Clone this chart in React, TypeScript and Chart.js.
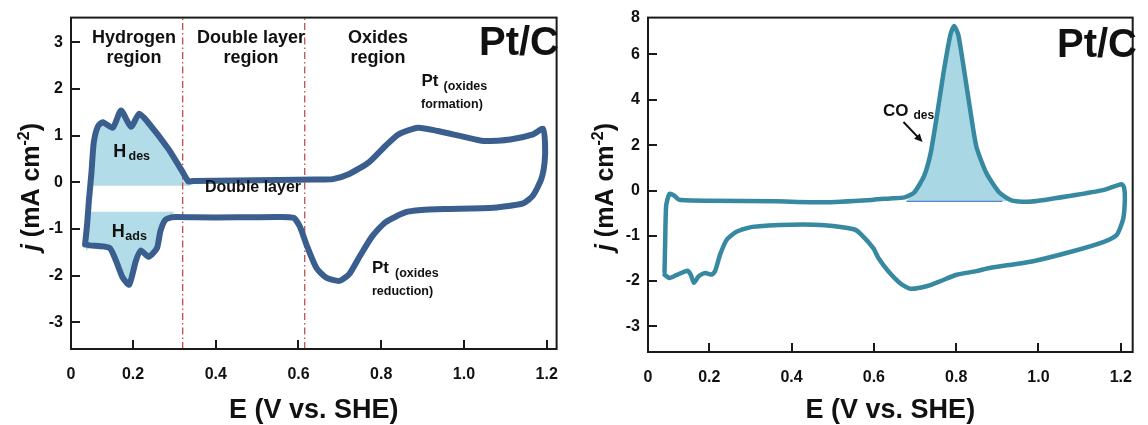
import React, { useEffect, useRef } from "react";
import { Chart, registerables, LinearScale } from "chart.js";

// ---------------- data ----------------
// Left panel: blank CV of Pt/C (E in V vs SHE, j in mA cm-2), path order around the loop
const cvE = [0.084, 0.089, 0.093, 0.0995, 0.105, 0.115, 0.127, 0.151, 0.171, 0.195, 0.2146, 0.234, 0.286, 0.318, 0.334, 0.345, 0.45, 0.55, 0.64, 0.683, 0.7226, 0.77, 0.81, 0.842, 0.889, 0.937, 0.993, 1.048, 1.112, 1.167, 1.191, 1.196, 1.195, 1.187, 1.167, 1.143, 1.072, 0.953, 0.897, 0.858, 0.81, 0.778, 0.746, 0.7226, 0.699, 0.667, 0.643, 0.619, 0.6035, 0.588, 0.55, 0.45, 0.35, 0.294, 0.278, 0.266, 0.258, 0.238, 0.2186, 0.2067, 0.1908, 0.1748, 0.159, 0.143, 0.0955, 0.084];
const cvJ = [-1.33, -0.9, -0.42, 0.216, 0.85, 1.2, 1.29, 1.17, 1.54, 1.19, 1.47, 1.31, 0.71, 0.25, 0.02, 0.03, 0.04, 0.05, 0.06, 0.07, 0.18, 0.43, 0.78, 1.03, 1.17, 1.1, 0.99, 0.885, 0.92, 1.03, 1.15, 0.85, 0.43, 0.07, -0.28, -0.45, -0.545, -0.573, -0.594, -0.644, -0.856, -1.158, -1.616, -1.967, -2.11, -2.04, -1.83, -1.33, -0.95, -0.76, -0.74, -0.75, -0.75, -0.745, -0.805, -1.05, -1.405, -1.595, -1.46, -1.686, -2.19, -2.04, -1.686, -1.405, -1.35, -1.33];

// H desorption area (anodic, above baseline)
const hdesE = [0.0955, 0.0995, 0.105, 0.115, 0.127, 0.151, 0.171, 0.195, 0.2146, 0.234, 0.286, 0.318, 0.334, 0.338];
const hdesJ = [-0.07, 0.216, 0.85, 1.2, 1.29, 1.17, 1.54, 1.19, 1.47, 1.31, 0.71, 0.25, 0.02, -0.07];
const HDES_BASE = -0.07;

// H adsorption area (cathodic, below top line)
const hadsE = [0.086, 0.0955, 0.143, 0.159, 0.1748, 0.1908, 0.2067, 0.2186, 0.238, 0.258, 0.266, 0.278, 0.294, 0.3];
const hadsJ = [-1.47, -1.4, -1.405, -1.686, -2.04, -2.19, -1.686, -1.46, -1.595, -1.405, -1.05, -0.805, -0.7, -0.63];
const HADS_TOP = -0.63;

// region boundaries (dash-dot lines)
const regionBoundariesE = [0.32, 0.615];

// Right panel: CO stripping CV, path order around the loop
const coE = [0.0912, 0.0929, 0.0952, 0.1031, 0.115, 0.127, 0.2, 0.361, 0.48, 0.599, 0.639, 0.6745, 0.698, 0.722, 0.738, 0.754, 0.77, 0.786, 0.795, 0.805, 0.817, 0.833, 0.849, 0.873, 0.905, 0.936, 0.984, 1.079, 1.159, 1.202, 1.208, 1.21, 1.206, 1.19, 1.159, 1.079, 0.984, 0.881, 0.849, 0.801, 0.762, 0.73, 0.69, 0.667, 0.635, 0.611, 0.599, 0.567, 0.551, 0.48, 0.401, 0.305, 0.266, 0.242, 0.226, 0.214, 0.206, 0.19, 0.1745, 0.1626, 0.1548, 0.1467, 0.123, 0.103, 0.0912];
const coJ = [-1.8, -1.06, -0.33, -0.07, -0.11, -0.2, -0.22, -0.234, -0.255, -0.2, -0.17, -0.146, -0.037, 0.65, 1.66, 3.4, 5.28, 6.87, 7.25, 6.87, 5.57, 3.69, 1.95, 0.79, -0.04, -0.22, -0.24, -0.11, 0.04, 0.29, 0.14, -0.18, -0.62, -0.98, -1.13, -1.35, -1.565, -1.71, -1.78, -1.86, -2.0, -2.11, -2.17, -2.07, -1.78, -1.49, -1.275, -0.948, -0.852, -0.764, -0.751, -0.8, -0.91, -1.09, -1.42, -1.78, -1.856, -1.82, -1.89, -2.04, -1.856, -1.77, -1.856, -1.93, -1.86];

// CO desorption peak area
const coPeakE = [0.679, 0.698, 0.722, 0.738, 0.754, 0.77, 0.786, 0.795, 0.805, 0.817, 0.833, 0.849, 0.873, 0.905, 0.925];
const coPeakJ = [-0.234, -0.037, 0.65, 1.66, 3.4, 5.28, 6.87, 7.25, 6.87, 5.57, 3.69, 1.95, 0.79, -0.04, -0.234];
const CO_BASE = -0.234;
const coBaseE = [0.679, 0.912];

// axes
const X_TICKS = [0.2, 0.4, 0.6, 0.8, 1.0, 1.2];
const LEFT_Y_TICKS = [-3, -2, -1, 0, 1, 2, 3];
const RIGHT_Y_TICKS = [-3, -2, -1, 0, 2, 4, 6];
const LEFT_X_MIN = 0.05, LEFT_X_MAX = 1.224, LEFT_Y_MIN = -3.57, LEFT_Y_MAX = 3.53;
const RIGHT_X_MIN = 0.051, RIGHT_X_MAX = 1.229, RIGHT_Y_MIN = -3.57, RIGHT_Y_MAX = 7.62;
const RIGHT_TOP_LABEL = "8";
const ORIGIN_LABEL = "0";
const POS_RATIO = 0.503; // positive currents are drawn at half scale on the right panel

// ---------------- custom scale ----------------
class SplitLinearScale extends LinearScale {
  static id = "splitLinear";
  static defaults = LinearScale.defaults;
  _t(v: number) { return v >= 0 ? v * POS_RATIO : v; }
  _ti(t: number) { return t >= 0 ? t / POS_RATIO : t; }
  getPixelForValue(value: any) {
    if (value === null || value === undefined || isNaN(value)) return NaN;
    const a = this._t(this.min), b = this._t(this.max);
    return this.getPixelForDecimal((this._t(+value) - a) / (b - a));
  }
  getValueForPixel(pixel: number) {
    const a = this._t(this.min), b = this._t(this.max);
    return this._ti(a + this.getDecimalForPixel(pixel) * (b - a));
  }
}

Chart.register(...registerables, SplitLinearScale as any);

const FONT = '"Liberation Sans", Arial, Helvetica, sans-serif';
const zip = (xs: number[], ys: number[]) => xs.map((x, i) => ({ x, y: ys[i] }));
const flat = (xs: number[], y: number) => xs.map((x) => ({ x, y }));

const LEFT_LINE = "#3a5e8e";
const LEFT_FILL = "#b2dce7";
const RIGHT_LINE = "#3689a0";
const RIGHT_FILL = "#a9d8e4";

type T = { t: string; x: number; y: number; size: number; align?: CanvasTextAlign; italic?: boolean };

function drawTexts(ctx: CanvasRenderingContext2D, items: T[]) {
  ctx.save();
  ctx.fillStyle = "#111";
  ctx.textBaseline = "alphabetic";
  for (const it of items) {
    ctx.font = `${it.italic ? "italic " : ""}bold ${it.size}px ${FONT}`;
    ctx.textAlign = it.align || "left";
    ctx.fillText(it.t, it.x, it.y);
  }
  ctx.restore();
}

function drawYTitle(ctx: CanvasRenderingContext2D, cx: number, cy: number, size: number) {
  ctx.save();
  ctx.translate(cx, cy);
  ctx.rotate(-Math.PI / 2);
  ctx.fillStyle = "#111";
  ctx.textBaseline = "alphabetic";
  ctx.textAlign = "left";
  const sup = Math.round(size * 0.62);
  const parts = [
    { t: "j", f: `italic bold ${size}px ${FONT}`, dy: 0 },
    { t: " (mA cm", f: `bold ${size}px ${FONT}`, dy: 0 },
    { t: "-2", f: `bold ${sup}px ${FONT}`, dy: -size * 0.42 },
    { t: ")", f: `bold ${size}px ${FONT}`, dy: 0 },
  ];
  let w = 0;
  for (const p of parts) { ctx.font = p.f; w += ctx.measureText(p.t).width; }
  let x = -w / 2;
  const base = size * 0.36;
  for (const p of parts) {
    ctx.font = p.f;
    ctx.fillText(p.t, x, base + p.dy);
    x += ctx.measureText(p.t).width;
  }
  ctx.restore();
}

function framePlugin(id: string) {
  return {
    id,
    afterDatasetsDraw(chart: any) {
      const { ctx, chartArea: a, scales } = chart;
      const x = scales.x, y = scales.y;
      ctx.save();
      ctx.strokeStyle = "#1a1a1a";
      ctx.lineWidth = 2;
      ctx.strokeRect(a.left, a.top, a.right - a.left, a.bottom - a.top);
      ctx.beginPath();
      for (const t of x.ticks) {
        if (t.value <= x.min + 1e-9) continue;
        const px = Math.round(x.getPixelForValue(t.value));
        ctx.moveTo(px, a.bottom);
        ctx.lineTo(px, a.bottom - 9);
      }
      for (const t of y.ticks) {
        if (t.value >= y.max - 1e-9) continue;
        const py = Math.round(y.getPixelForValue(t.value));
        ctx.moveTo(a.left, py);
        ctx.lineTo(a.left + 9, py);
      }
      ctx.stroke();
      ctx.restore();
    },
  };
}

function baseOptions(xMin: number, xMax: number, yMin: number, yMax: number, yTicks: number[], yType: string, yTopLabel: string | null, pad: any, xAxisH: number, yAxisW: number) {
  const tickFont = { family: FONT, size: 16, weight: "bold" as const };
  return {
    responsive: false,
    animation: false as const,
    events: [],
    layout: { padding: pad },
    plugins: { legend: { display: false }, tooltip: { enabled: false } },
    elements: { point: { radius: 0 } },
    scales: {
      x: {
        type: "linear",
        min: xMin,
        max: xMax,
        grid: { display: false, drawTicks: false },
        border: { display: false },
        afterBuildTicks: (axis: any) => { axis.ticks = [xMin, ...X_TICKS].map((v) => ({ value: v })); },
        afterFit: (s: any) => { s.height = xAxisH; },
        ticks: {
          autoSkip: false,
          maxRotation: 0,
          padding: 16,
          color: "#111",
          font: tickFont,
          callback: (v: number) => (v === xMin ? ORIGIN_LABEL : v.toFixed(1)),
        },
      },
      y: {
        type: yType,
        min: yMin,
        max: yMax,
        grid: { display: false, drawTicks: false },
        border: { display: false },
        afterBuildTicks: (axis: any) => {
          const vals = yTopLabel ? [...yTicks, yMax] : yTicks;
          axis.ticks = vals.map((v) => ({ value: v }));
        },
        afterFit: (s: any) => { s.width = yAxisW; },
        ticks: {
          autoSkip: false,
          padding: 8,
          color: "#111",
          font: tickFont,
          callback: (v: number) => (yTopLabel && v === yMax ? yTopLabel : String(v)),
        },
      },
    },
  };
}

function LeftChart() {
  const ref = useRef<HTMLCanvasElement>(null);
  useEffect(() => {
    const annot = {
      id: "leftAnnot",
      afterDraw(chart: any) {
        const ctx = chart.ctx;
        drawTexts(ctx, [
          { t: "Hydrogen", x: 134, y: 43, size: 18, align: "center" },
          { t: "region", x: 134, y: 63, size: 18, align: "center" },
          { t: "Double layer", x: 251, y: 43, size: 18, align: "center" },
          { t: "region", x: 251, y: 63, size: 18, align: "center" },
          { t: "Oxides", x: 378, y: 43, size: 18, align: "center" },
          { t: "region", x: 378, y: 63, size: 18, align: "center" },
          { t: "Pt/C", x: 479, y: 55, size: 40 },
          { t: "Pt", x: 421.5, y: 85.5, size: 17 },
          { t: "(oxides", x: 443.5, y: 89.5, size: 12.5 },
          { t: "formation)", x: 421, y: 108, size: 12.5 },
          { t: "Pt", x: 372, y: 273, size: 17 },
          { t: "(oxides", x: 395, y: 277, size: 12.5 },
          { t: "reduction)", x: 372, y: 295, size: 12.5 },
          { t: "H", x: 113.3, y: 156.7, size: 18 },
          { t: "des", x: 128.5, y: 160, size: 12.5 },
          { t: "H", x: 111.7, y: 236.7, size: 18 },
          { t: "ads", x: 125.3, y: 240, size: 12.5 },
          { t: "Double layer", x: 205, y: 192, size: 16 },
          { t: "E (V vs. SHE)", x: (chart.chartArea.left + chart.chartArea.right) / 2, y: 418, size: 27, align: "center" },
        ]);
        drawYTitle(ctx, 30, 187, 25);
      },
    };
    const chart = new Chart(ref.current as HTMLCanvasElement, {
      type: "line",
      data: {
        datasets: [
          { data: zip(cvE, cvJ), borderColor: LEFT_LINE, borderWidth: 6, tension: 0.2, fill: false, borderJoinStyle: "round", borderCapStyle: "round" },
          ...regionBoundariesE.map((e) => ({ data: [{ x: e, y: LEFT_Y_MIN }, { x: e, y: LEFT_Y_MAX }], borderColor: "#c0504d", borderWidth: 1.3, borderDash: [7, 3, 1.5, 3], fill: false })),
          { data: zip(hdesE, hdesJ), borderWidth: 0, borderColor: "rgba(0,0,0,0)", backgroundColor: LEFT_FILL, tension: 0.2, fill: { value: HDES_BASE } },
          { data: zip(hadsE, hadsJ), borderWidth: 0, borderColor: "rgba(0,0,0,0)", backgroundColor: LEFT_FILL, tension: 0.2, fill: { value: HADS_TOP } },
        ] as any,
      },
      options: baseOptions(LEFT_X_MIN, LEFT_X_MAX, LEFT_Y_MIN, LEFT_Y_MAX, LEFT_Y_TICKS, "linear", null, { left: 0, right: 10, top: 13, bottom: 0 }, 76, 71) as any,
      plugins: [framePlugin("leftFrame"), annot],
    });
    return () => chart.destroy();
  }, []);
  return <canvas ref={ref} width={574} height={425} style={{ position: "absolute", left: 0, top: 0, width: 574, height: 425 }} />;
}

function RightChart() {
  const ref = useRef<HTMLCanvasElement>(null);
  useEffect(() => {
    const annot = {
      id: "rightAnnot",
      afterDraw(chart: any) {
        const ctx = chart.ctx;
        drawTexts(ctx, [
          { t: "Pt/C", x: 483, y: 57, size: 40 },
          { t: "CO", x: 309, y: 116, size: 17 },
          { t: "des", x: 339.5, y: 118.5, size: 12 },
          { t: "E (V vs. SHE)", x: (chart.chartArea.left + chart.chartArea.right) / 2, y: 418, size: 27, align: "center" },
        ]);
        // arrow
        const x0 = 329.5, y0 = 122, x1 = 348.5, y1 = 142;
        const ang = Math.atan2(y1 - y0, x1 - x0);
        ctx.save();
        ctx.strokeStyle = "#111";
        ctx.fillStyle = "#111";
        ctx.lineWidth = 2;
        ctx.beginPath();
        ctx.moveTo(x0, y0);
        ctx.lineTo(x1 - 5 * Math.cos(ang), y1 - 5 * Math.sin(ang));
        ctx.stroke();
        ctx.beginPath();
        ctx.moveTo(x1, y1);
        ctx.lineTo(x1 - 9 * Math.cos(ang - 0.45), y1 - 9 * Math.sin(ang - 0.45));
        ctx.lineTo(x1 - 9 * Math.cos(ang + 0.45), y1 - 9 * Math.sin(ang + 0.45));
        ctx.closePath();
        ctx.fill();
        ctx.restore();
        drawYTitle(ctx, 30, 187, 25);
      },
    };
    const chart = new Chart(ref.current as HTMLCanvasElement, {
      type: "line",
      data: {
        datasets: [
          { data: zip(coE, coJ), borderColor: RIGHT_LINE, borderWidth: 4.5, tension: 0.2, fill: false, borderJoinStyle: "round", borderCapStyle: "round" },
          { data: flat(coBaseE, CO_BASE), borderColor: "#5b82cf", borderWidth: 1.2, fill: false },
          { data: zip(coPeakE, coPeakJ), borderWidth: 0, borderColor: "rgba(0,0,0,0)", backgroundColor: RIGHT_FILL, tension: 0.2, fill: { value: CO_BASE } },
        ] as any,
      },
      options: baseOptions(RIGHT_X_MIN, RIGHT_X_MAX, RIGHT_Y_MIN, RIGHT_Y_MAX, RIGHT_Y_TICKS, "splitLinear", RIGHT_TOP_LABEL, { left: 0, right: 5, top: 13, bottom: 0 }, 73, 74) as any,
      plugins: [framePlugin("rightFrame"), annot],
    });
    return () => chart.destroy();
  }, []);
  return <canvas ref={ref} width={574} height={425} style={{ position: "absolute", left: 574, top: 0, width: 574, height: 425 }} />;
}

export default function App() {
  return (
    <div style={{ position: "fixed", left: 0, top: 0, width: 1148, height: 425, background: "#fff", overflow: "hidden" }}>
      <LeftChart />
      <RightChart />
    </div>
  );
}
